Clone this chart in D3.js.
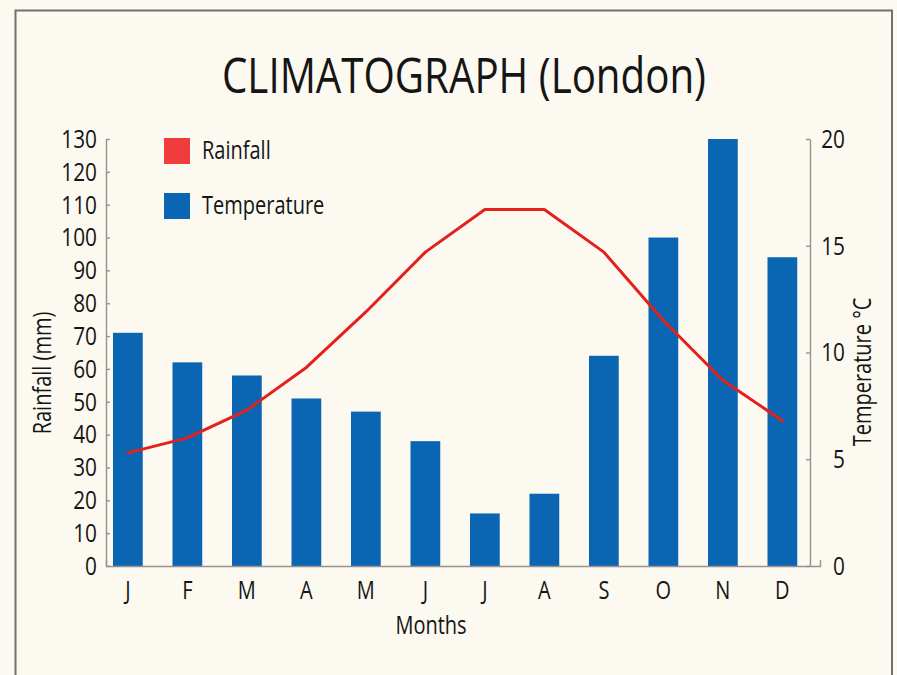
<!DOCTYPE html>
<html>
<head>
<meta charset="utf-8">
<script src="https://cdn.jsdelivr.net/npm/d3@7"></script>
<style>
  html, body { margin: 0; padding: 0; background: #fbf9f0; }
  svg { display: block; }
  text { font-family: "Open Sans", sans-serif; fill: #151515; }
</style>
</head>
<body>
<svg id="chart" width="897" height="675"></svg>
<script>
// ---- data ----
const months = ["J", "F", "M", "A", "M", "J", "J", "A", "S", "O", "N", "D"];
const rainfall = [71, 62, 58, 51, 47, 38, 16, 22, 64, 100, 130, 94];          // bars, mm
const temperature = [5.3, 6.0, 7.3, 9.3, 11.9, 14.7, 16.7, 16.7, 14.7, 11.5, 8.7, 6.8]; // line, °C
const rainTicks = [0, 10, 20, 30, 40, 50, 60, 70, 80, 90, 100, 110, 120, 130];
const tempTicks = [0, 5, 10, 15, 20];
const legendLabels = ["Rainfall", "Temperature"];

// ---- layout ----
const svg = d3.select("#chart");
const plotLeft = 106, plotRight = 810, axisEnd = 820, plotTop = 139, plotBottom = 566;
const lineColor = "#e3201b", legendRed = "#f03c3c", barColor = "#0a66b3", axisColor = "#9a9090";
const squeeze = 0.8; // the typeface is a condensed humanist sans

function condense(sel, k) {
  sel.each(function () {
    const len = this.getComputedTextLength();
    d3.select(this).attr("textLength", len * k).attr("lengthAdjust", "spacingAndGlyphs");
  });
}

// page frame
svg.append("rect")
  .attr("x", 15.5).attr("y", 10.5).attr("width", 876.5).attr("height", 700)
  .attr("fill", "none").attr("stroke", "#707070").attr("stroke-width", 2);

// scales
const x = d3.scaleBand().domain(d3.range(months.length))
  .range([plotLeft, axisEnd]).paddingInner(0.5).paddingOuter(0.25).align(0.235);
const yRain = d3.scaleLinear().domain([0, 130]).range([plotBottom, plotTop]);
const yTemp = d3.scaleLinear().domain([0, 20]).range([plotBottom, plotTop]);

// title
svg.append("text")
  .attr("x", 464).attr("y", 93).attr("text-anchor", "middle")
  .attr("font-size", 50).attr("textLength", 484).attr("lengthAdjust", "spacingAndGlyphs")
  .text("CLIMATOGRAPH (London)");

// bars
svg.append("g").selectAll("rect").data(rainfall).join("rect")
  .attr("x", (d, i) => x(i)).attr("width", x.bandwidth())
  .attr("y", d => yRain(d)).attr("height", d => yRain(0) - yRain(d))
  .attr("fill", barColor);

// line
const line = d3.line()
  .x((d, i) => x(i) + x.bandwidth() / 2)
  .y(d => yTemp(d));
svg.append("path").datum(temperature)
  .attr("d", line).attr("fill", "none")
  .attr("stroke", lineColor).attr("stroke-width", 3)
  .attr("stroke-linejoin", "round").attr("stroke-linecap", "round");

// left axis
const gL = svg.append("g").attr("transform", `translate(${plotLeft},0)`)
  .call(d3.axisLeft(yRain).tickValues(rainTicks).tickSizeInner(-4).tickSizeOuter(0).tickPadding(9));
gL.selectAll("text").attr("font-size", 26).attr("font-family", '"Open Sans", sans-serif').attr("fill", "#151515").call(condense, squeeze);

// right axis
const gR = svg.append("g").attr("transform", `translate(${plotRight},0)`)
  .call(d3.axisRight(yTemp).tickValues(tempTicks).tickSizeInner(-4).tickSizeOuter(0));
gR.selectAll("text").attr("font-size", 26).attr("font-family", '"Open Sans", sans-serif').attr("fill", "#151515")
  .attr("text-anchor", "end").attr("x", 35).call(condense, squeeze);

// bottom axis
const gB = svg.append("g").attr("transform", `translate(0,${plotBottom})`)
  .call(d3.axisBottom(x).tickFormat(i => months[i]).tickSizeInner(0).tickSizeOuter(-6).tickPadding(15));
gB.selectAll("text").attr("font-size", 25).attr("font-family", '"Open Sans", sans-serif').attr("fill", "#151515").call(condense, squeeze);

[gL, gR, gB].forEach(g => {
  g.selectAll("path, line").attr("stroke", axisColor).attr("stroke-width", 1.4);
});

// axis titles
svg.append("text")
  .attr("transform", "translate(51,373) rotate(-90)")
  .attr("text-anchor", "middle").attr("font-size", 25)
  .text("Rainfall (mm)").call(condense, squeeze);

svg.append("text")
  .attr("transform", "translate(871,372) rotate(-90)")
  .attr("text-anchor", "middle").attr("font-size", 25)
  .text("Temperature °C").call(condense, squeeze);

svg.append("text")
  .attr("x", 431).attr("y", 634).attr("text-anchor", "middle").attr("font-size", 25)
  .text("Months").call(condense, squeeze);

// legend
const legend = svg.append("g").attr("transform", "translate(164,138)");
const legendColors = [legendRed, barColor];
legend.selectAll("rect").data(legendLabels).join("rect")
  .attr("x", 0).attr("y", (d, i) => i * 55).attr("width", 26).attr("height", 26)
  .attr("fill", (d, i) => legendColors[i]);
legend.selectAll("text").data(legendLabels).join("text")
  .attr("x", 38).attr("y", (d, i) => 21 + i * 55).attr("font-size", 25)
  .text(d => d).call(condense, squeeze);
</script>
</body>
</html>
